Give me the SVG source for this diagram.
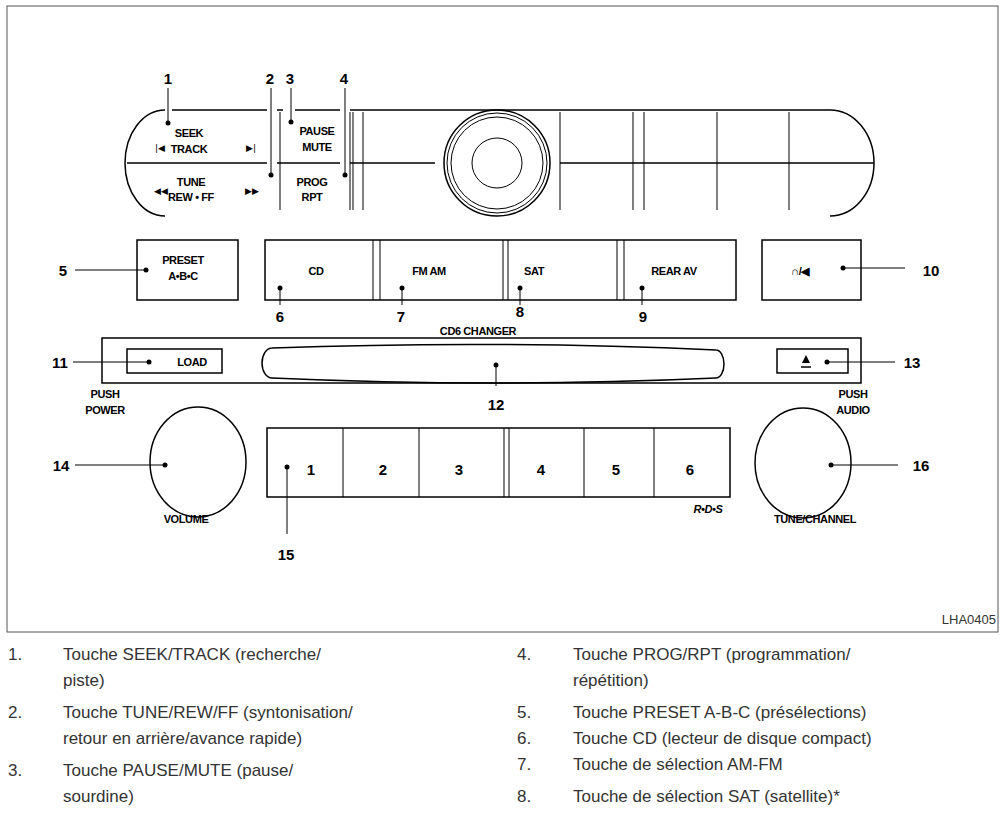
<svg xmlns="http://www.w3.org/2000/svg" width="1006" height="826" viewBox="0 0 1006 826">
<style>
.l{fill:none;stroke:#000;stroke-width:1.5}
.t{stroke:#000;stroke-width:1;fill:none}
.b{font-family:"Liberation Sans",Arial,sans-serif;font-weight:bold;font-size:11px;letter-spacing:-0.4px;text-anchor:middle;fill:#000}
.s{font-family:"DejaVu Sans",sans-serif;font-size:9px;text-anchor:middle;fill:#000}
.n{font-family:"Liberation Sans",Arial,sans-serif;font-weight:bold;font-size:15px;text-anchor:middle;fill:#000}
.d{fill:#000}
.p{font-family:"Liberation Sans",sans-serif;font-size:17px;fill:#333}
</style>
<rect x="0" y="0" width="1006" height="826" fill="#fff"/>
<rect x="7" y="6" width="991" height="626" fill="none" stroke="#555" stroke-width="1"/>
<g id="top-unit">
<path class="l" d="M172 110H267M277 110H283M295 110H340M350 110H830A44 53 0 0 1 830 216"/>
<path class="l" d="M165 110A40 53 0 0 0 165 216"/>
<path class="l" d="M127 163H267M277 163H340M350 163H435M560 163H874"/>
<path class="t" d="M280 112V210M350 112V210M353 112V210M363 112V210M560 112V210M633 112V210M644 112V210M717 112V210M789 112V210"/>
<circle cx="497" cy="163" r="53" class="l"/>
<circle cx="497" cy="163" r="50" class="t"/>
<circle cx="497" cy="163" r="46" class="t"/>
<circle cx="497" cy="163" r="25" class="t"/>
<text class="b" x="189" y="137">SEEK</text><text class="b" x="189" y="153">TRACK</text>
<text class="s" x="160" y="151">|◀</text><text class="s" x="251" y="151">▶|</text>
<text class="b" x="191" y="186">TUNE</text><text class="b" x="191" y="201">REW • FF</text>
<text class="s" x="161" y="194">◀◀</text><text class="s" x="252" y="194">▶▶</text>
<text class="b" x="317" y="135">PAUSE</text><text class="b" x="317" y="151">MUTE</text>
<text class="b" x="312" y="186">PROG</text><text class="b" x="312" y="201">RPT</text>
</g>
<g id="row2">
<rect x="137" y="240" width="101" height="60" class="l"/>
<text class="b" x="183" y="264">PRESET</text><text class="b" x="183" y="280">A•B•C</text>
<rect x="265" y="240" width="471" height="60" class="l"/>
<path class="t" d="M373 240V300M380 240V300M503 240V300M508 240V300M617 240V300M624 240V300"/>
<text class="b" x="316" y="275">CD</text><text class="b" x="429" y="275">FM AM</text>
<text class="b" x="534" y="275">SAT</text><text class="b" x="674" y="275">REAR AV</text>
<rect x="762" y="240" width="99" height="60" class="l"/>
<text class="b" x="800" y="275" font-size="13">∩/◀</text>
<text class="b" x="478" y="335">CD6 CHANGER</text>
</g>
<g id="row3">
<rect x="102" y="338" width="759" height="45" class="l"/>
<rect x="127" y="349" width="95" height="24" class="l"/>
<text class="b" x="192" y="366">LOAD</text>
<path class="l" d="M272 348Q496 340 716 350A8 14 0 0 1 716 378Q496 388 272 378A10 15 0 0 1 272 348Z"/>
<rect x="777" y="349" width="71" height="24" class="l"/>
<path class="d" d="M802 363L806 355L810 363Z"/><path class="l" d="M801 367H811"/>
<text class="b" x="105" y="398">PUSH</text><text class="b" x="105" y="414">POWER</text>
<text class="b" x="853" y="398">PUSH</text><text class="b" x="853" y="414">AUDIO</text>
</g>
<g id="row4">
<ellipse cx="198" cy="462" rx="48" ry="55" class="l"/>
<text class="b" x="186" y="523">VOLUME</text>
<rect x="267" y="428" width="463" height="69" class="l"/>
<path class="t" d="M343 428V497M419 428V497M504 428V497M509 428V497M584 428V497M654 428V497"/>
<text class="n" x="311" y="475">1</text><text class="n" x="383" y="475">2</text><text class="n" x="459" y="475">3</text>
<text class="n" x="541" y="475">4</text><text class="n" x="616" y="475">5</text><text class="n" x="690" y="475">6</text>
<text class="b" x="708" y="513" font-style="italic">R•D•S</text>
<ellipse cx="803" cy="463" rx="48" ry="55" class="l"/>
<text class="b" x="815" y="523">TUNE/CHANNEL</text>
</g>
<g id="connectors">
<path class="t" d="M168 88V123M271 88V175M291 88V122M345 88V175M75 270H146M280 288V305M402 288V305M520 288V305M642 288V305M843 268H905M73 362H149M496 365V386M827 362H895M75 465H165M287 467V534M831 465H898"/>
<g class="d"><circle cx="168" cy="123" r="2.5"/><circle cx="271" cy="175" r="2.5"/><circle cx="291" cy="122" r="2.5"/><circle cx="345" cy="175" r="2.5"/><circle cx="146" cy="270" r="2.5"/><circle cx="280" cy="288" r="2.5"/><circle cx="402" cy="288" r="2.5"/><circle cx="520" cy="288" r="2.5"/><circle cx="642" cy="288" r="2.5"/><circle cx="843" cy="268" r="2.5"/><circle cx="149" cy="362" r="2.5"/><circle cx="496" cy="365" r="2.5"/><circle cx="827" cy="362" r="2.5"/><circle cx="165" cy="465" r="2.5"/><circle cx="287" cy="467" r="2.5"/><circle cx="831" cy="465" r="2.5"/></g>
<text class="n" x="168" y="84">1</text><text class="n" x="270" y="84">2</text><text class="n" x="290" y="84">3</text><text class="n" x="344" y="84">4</text>
<text class="n" x="63" y="276">5</text><text class="n" x="280" y="322">6</text><text class="n" x="401" y="322">7</text><text class="n" x="520" y="317">8</text><text class="n" x="643" y="322">9</text>
<text class="n" x="931" y="276">10</text><text class="n" x="60" y="368">11</text><text class="n" x="496" y="410">12</text><text class="n" x="912" y="368">13</text>
<text class="n" x="61" y="471">14</text><text class="n" x="286" y="560">15</text><text class="n" x="921" y="471">16</text>
</g>
<text x="996" y="624" font-family="Liberation Sans,sans-serif" font-size="13" text-anchor="end" fill="#333">LHA0405</text>
<g id="legend" class="p">
<text x="8" y="660">1.</text><text x="63" y="660">Touche SEEK/TRACK (recherche/</text><text x="63" y="686">piste)</text>
<text x="8" y="718">2.</text><text x="63" y="718">Touche TUNE/REW/FF (syntonisation/</text><text x="63" y="744">retour en arrière/avance rapide)</text>
<text x="8" y="776">3.</text><text x="63" y="776">Touche PAUSE/MUTE (pause/</text><text x="63" y="802">sourdine)</text>
<text x="517" y="660">4.</text><text x="573" y="660">Touche PROG/RPT (programmation/</text><text x="573" y="686">répétition)</text>
<text x="517" y="718">5.</text><text x="573" y="718">Touche PRESET A-B-C (présélections)</text>
<text x="517" y="744">6.</text><text x="573" y="744">Touche CD (lecteur de disque compact)</text>
<text x="517" y="770">7.</text><text x="573" y="770">Touche de sélection AM-FM</text>
<text x="517" y="802">8.</text><text x="573" y="802">Touche de sélection SAT (satellite)*</text>
</g>
</svg>
